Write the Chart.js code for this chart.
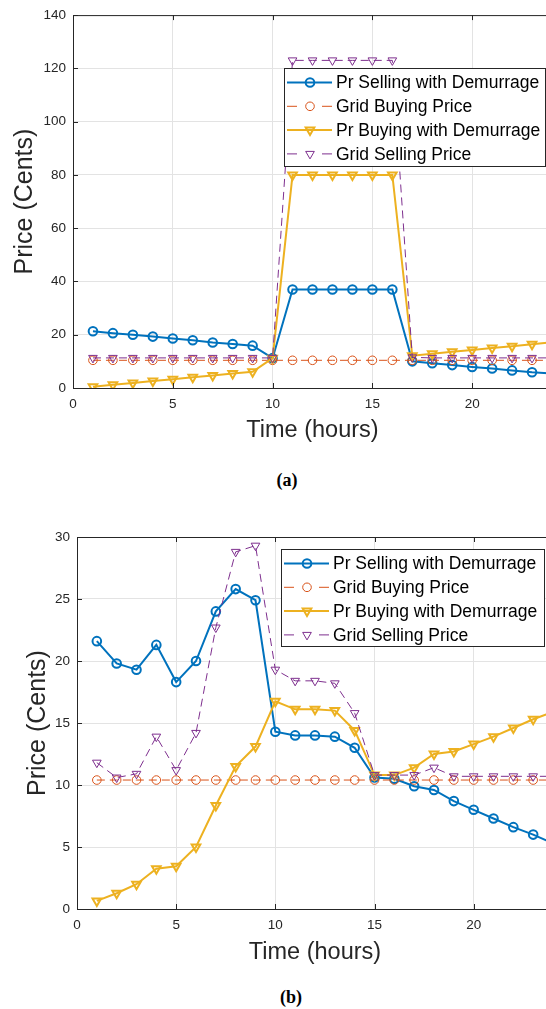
<!DOCTYPE html>
<html>
<head>
<meta charset="utf-8">
<script src="https://cdn.jsdelivr.net/npm/chart.js@4.4.1/dist/chart.umd.min.js"></script>
<style>
  html, body { margin: 0; padding: 0; background: #fff; overflow: hidden; }
  body { width: 546px; height: 1009px; position: relative; }
  .panel { position: absolute; left: 0; width: 546px; height: 450px; overflow: hidden; }
  .panel canvas { position: absolute; left: 0; top: 0; }
  .cap { position: absolute; font-family: "Liberation Serif", "DejaVu Serif", serif; font-weight: bold;
         font-size: 18px; color: #000; transform: translate(-50%, -50%); white-space: nowrap; }
</style>
</head>
<body>
<div class="panel" style="top:0"><canvas id="chartA" width="560" height="450"></canvas></div>
<div class="cap" style="left:287px; top:480px">(a)</div>
<div class="panel" style="top:520px"><canvas id="chartB" width="560" height="450"></canvas></div>
<div class="cap" style="left:291px; top:997px">(b)</div>

<script>
// hours on the x axis
const hours = [1, 2, 3, 4, 5, 6, 7, 8, 9, 10, 11, 12, 13, 14, 15, 16, 17, 18, 19, 20, 21, 22, 23, 24];
const xTicks = [0, 5, 10, 15, 20];
const yTicksA = [0, 20, 40, 60, 80, 100, 120, 140];
const yTicksB = [0, 5, 10, 15, 20, 25, 30];
const seriesNames = ['Pr Selling with Demurrage', 'Grid Buying Price', 'Pr Buying with Demurrage', 'Grid Selling Price'];

// panel (a)
const sellA = [21.3, 20.6, 20.0, 19.3, 18.6, 17.9, 17.1, 16.5, 15.9, 11.2, 37, 37, 37, 37, 37, 37, 10.0, 9.3, 8.6, 7.9, 7.3, 6.6, 5.9, 5.4];
const gridBuyA = [10.4, 10.4, 10.4, 10.4, 10.4, 10.4, 10.4, 10.4, 10.4, 10.4, 10.4, 10.4, 10.4, 10.4, 10.4, 10.4, 10.4, 10.4, 10.4, 10.4, 10.4, 10.4, 10.4, 10.4];
const buyA = [0.5, 1.2, 1.9, 2.6, 3.3, 4.0, 4.7, 5.4, 6.1, 11.2, 80, 80, 80, 80, 80, 80, 12.1, 12.9, 13.6, 14.3, 15.0, 15.7, 16.4, 17.2];
const gridSellA = [11.3, 11.3, 11.3, 11.3, 11.3, 11.3, 11.3, 11.3, 11.3, 11.3, 123, 123, 123, 123, 123, 123, 11.5, 11.3, 11.3, 11.3, 11.3, 11.3, 11.3, 11.3];

// panel (b)
const sellB = [21.6, 19.8, 19.3, 21.3, 18.3, 20.0, 24.0, 25.8, 24.9, 14.3, 14.0, 14.0, 13.9, 13.0, 10.6, 10.5, 9.9, 9.6, 8.7, 8.0, 7.3, 6.6, 6.0, 5.3];
const gridBuyB = [10.4, 10.4, 10.4, 10.4, 10.4, 10.4, 10.4, 10.4, 10.4, 10.4, 10.4, 10.4, 10.4, 10.4, 10.4, 10.4, 10.4, 10.4, 10.4, 10.4, 10.4, 10.4, 10.4, 10.4];
const buyB = [0.65, 1.27, 2.0, 3.25, 3.45, 5.0, 8.35, 11.5, 13.1, 16.75, 16.1, 16.1, 16.0, 14.4, 10.8, 10.8, 11.4, 12.5, 12.7, 13.3, 13.9, 14.6, 15.3, 15.9];
const gridSellB = [11.8, 10.6, 10.9, 13.9, 11.2, 14.2, 22.7, 28.8, 29.3, 19.3, 18.4, 18.4, 18.2, 15.8, 10.8, 10.8, 10.8, 11.4, 10.7, 10.7, 10.7, 10.7, 10.7, 10.7];

const BLUE = '#0072BD', ORANGE = '#D95319', YELLOW = '#EDB120', PURPLE = '#7E2F8E';
const AXIS = '#262626', GRID = '#e3e3e3';
const FONT = '"Liberation Sans", Arial, Helvetica, sans-serif';

function pts(vals) {
  return hours.map((h, i) => ({x: h, y: vals[i]}));
}

function makeDatasets(sell, gridBuy, buy, gridSell) {
  return [
    {label: seriesNames[0], data: pts(sell), borderColor: BLUE, borderWidth: 2,
     pointStyle: 'circle', pointRadius: 4.3, pointBorderWidth: 2, pointBorderColor: BLUE,
     pointBackgroundColor: 'rgba(0,0,0,0)', order: 4},
    {label: seriesNames[1], data: pts(gridBuy), borderColor: ORANGE, borderWidth: 1, borderDash: [8, 5],
     pointStyle: 'circle', pointRadius: 4.3, pointBorderWidth: 1, pointBorderColor: ORANGE,
     pointBackgroundColor: 'rgba(0,0,0,0)', order: 3},
    {label: seriesNames[2], data: pts(buy), borderColor: YELLOW, borderWidth: 2,
     pointStyle: 'triangle', pointRotation: 180, pointRadius: 5, pointBorderWidth: 2, pointBorderColor: YELLOW,
     pointBackgroundColor: 'rgba(0,0,0,0)', order: 2},
    {label: seriesNames[3], data: pts(gridSell), borderColor: PURPLE, borderWidth: 1, borderDash: [8, 5],
     pointStyle: 'triangle', pointRotation: 180, pointRadius: 5, pointBorderWidth: 1, pointBorderColor: PURPLE,
     pointBackgroundColor: 'rgba(0,0,0,0)', order: 1}
  ];
}

function drawMarker(ctx, style, x, y, r, color, lw) {
  ctx.beginPath();
  if (style === 'circle') {
    ctx.arc(x, y, r, 0, Math.PI * 2);
  } else {
    ctx.moveTo(x - r * 0.866, y - r / 2);
    ctx.lineTo(x + r * 0.866, y - r / 2);
    ctx.lineTo(x, y + r);
    ctx.closePath();
  }
  ctx.strokeStyle = color;
  ctx.lineWidth = lw;
  ctx.stroke();
}

// matlab-like box: top border, inward ticks, legend inside the axes
const matlabFrame = {
  id: 'matlabFrame',
  afterDraw(chart, args, opts) {
    const {ctx, chartArea: a} = chart;
    const x = chart.scales.x, y = chart.scales.y;
    ctx.save();
    ctx.strokeStyle = AXIS;
    ctx.lineWidth = 1;
    ctx.beginPath();
    ctx.moveTo(a.left, a.top + 0.5);
    ctx.lineTo(a.right, a.top + 0.5);
    x.ticks.forEach(t => {
      const px = Math.round(x.getPixelForValue(t.value)) + 0.5;
      ctx.moveTo(px, a.bottom); ctx.lineTo(px, a.bottom - 5);
      ctx.moveTo(px, a.top); ctx.lineTo(px, a.top + 5);
    });
    y.ticks.forEach(t => {
      const py = Math.round(y.getPixelForValue(t.value)) + 0.5;
      ctx.moveTo(a.left, py); ctx.lineTo(a.left + 5, py);
    });
    ctx.stroke();

    // legend
    const lg = opts;
    ctx.fillStyle = '#fff';
    ctx.fillRect(lg.x, lg.y, lg.w, lg.h);
    ctx.strokeStyle = AXIS;
    ctx.strokeRect(lg.x + 0.5, lg.y + 0.5, lg.w, lg.h);
    ctx.font = '17.5px ' + FONT;
    ctx.textBaseline = 'middle';
    ctx.textAlign = 'left';
    chart.data.datasets.forEach((ds, i) => {
      const cy = lg.y + 14.5 + i * 23.8;
      ctx.strokeStyle = ds.borderColor;
      ctx.lineWidth = ds.borderWidth;
      ctx.beginPath();
      if (ds.borderDash) {
        ctx.moveTo(lg.x + 3, cy); ctx.lineTo(lg.x + 13, cy);
        ctx.moveTo(lg.x + 38, cy); ctx.lineTo(lg.x + 48, cy);
      } else {
        ctx.moveTo(lg.x + 3, cy); ctx.lineTo(lg.x + 48, cy);
      }
      ctx.stroke();
      drawMarker(ctx, ds.pointStyle, lg.x + 26, cy, ds.pointStyle === 'circle' ? 4.3 : 5,
                 ds.borderColor, ds.pointBorderWidth);
      ctx.fillStyle = '#000';
      ctx.fillText(ds.label, lg.x + 52, cy + 1);
    });
    ctx.restore();
  }
};

function makeChart(id, datasets, cfg) {
  return new Chart(document.getElementById(id), {
    type: 'line',
    data: {datasets: datasets},
    options: {
      responsive: false,
      animation: false,
      layout: {padding: {top: cfg.padTop, right: cfg.padRight, left: 0, bottom: 0}},
      plugins: {legend: {display: false}, tooltip: {enabled: false}, matlabFrame: cfg.legend},
      scales: {
        x: {
          type: 'linear', min: 0, max: 24,
          afterBuildTicks: s => { s.ticks = xTicks.map(v => ({value: v})); },
          afterFit: s => { s.height = cfg.xHeight; },
          grid: {color: GRID, drawTicks: false},
          border: {color: AXIS, width: 1},
          ticks: {color: AXIS, font: {family: FONT, size: 13.5}, padding: cfg.xTickPad, maxRotation: 0, autoSkip: false},
          title: {display: true, text: 'Time (hours)', color: AXIS, font: {family: FONT, size: 23.5},
                  padding: {top: 0, bottom: cfg.xTitlePad}}
        },
        y: {
          min: 0, max: cfg.yMax,
          afterBuildTicks: s => { s.ticks = cfg.yTicks.map(v => ({value: v})); },
          afterFit: s => { s.width = cfg.yWidth; },
          grid: {color: GRID, drawTicks: false},
          border: {color: AXIS, width: 1},
          ticks: {color: AXIS, font: {family: FONT, size: 13.5}, padding: 7},
          title: {display: true, text: 'Price (Cents)', color: AXIS, font: {family: FONT, size: 25},
                  padding: {top: cfg.yTitlePad, bottom: 0}}
        }
      }
    },
    plugins: [matlabFrame]
  });
}

makeChart('chartA', makeDatasets(sellA, gridBuyA, buyA, gridSellA), {
  padTop: 15, padRight: 8, xHeight: 62, xTickPad: 8, xTitlePad: 5, yWidth: 73, yTitlePad: 10,
  yMax: 140, yTicks: yTicksA, legend: {x: 284, y: 68, w: 261, h: 98}
});
makeChart('chartB', makeDatasets(sellB, gridBuyB, buyB, gridSellB), {
  padTop: 17, padRight: 5, xHeight: 61, xTickPad: 8.5, xTitlePad: 3.5, yWidth: 77, yTitlePad: 23,
  yMax: 30, yTicks: yTicksB, legend: {x: 281, y: 29, w: 263, h: 97}
});
</script>
</body>
</html>
